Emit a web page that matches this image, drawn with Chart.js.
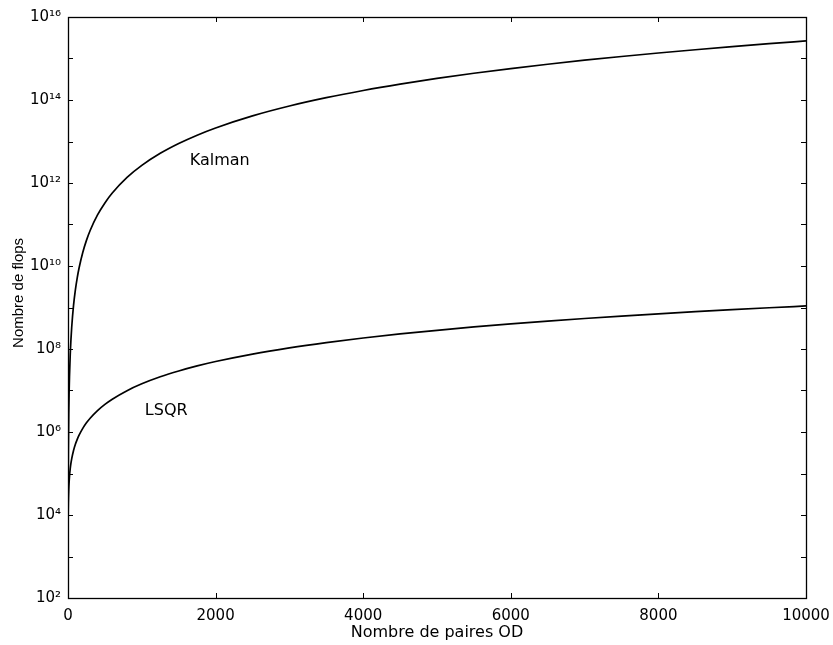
<!DOCTYPE html>
<html>
<head>
<meta charset="utf-8">
<script src="https://cdn.jsdelivr.net/npm/chart.js@4"></script>
<style>
  html, body { margin: 0; padding: 0; background: #ffffff; }
  #wrap { width: 833px; height: 645px; }
</style>
</head>
<body>
<div id="wrap"><canvas id="c" width="833" height="645"></canvas></div>
<script>
// ---- data ----
const nPairs = [1, 3, 5, 10, 15, 20, 30, 40, 50, 75, 100, 125, 150, 200, 250, 300, 400, 500, 600, 800,
  1000, 1250, 1500, 1750, 2000, 2500, 3000, 3500, 4000, 4500, 5000, 5500, 6000, 6500, 7000, 7500,
  8000, 8500, 9000, 9500, 10000];
const kalmanFlops = [2.65e3, 7.16e4, 3.31e5, 2.65e6, 8.94e6, 2.12e7, 7.16e7, 1.70e8, 3.31e8, 1.12e9,
  2.65e9, 5.18e9, 8.94e9, 2.12e10, 4.14e10, 7.16e10, 1.70e11, 3.31e11, 5.72e11, 1.36e12,
  2.65e12, 5.18e12, 8.94e12, 1.42e13, 2.12e13, 4.14e13, 7.16e13, 1.136e14, 1.696e14, 2.415e14,
  3.313e14, 4.409e14, 5.724e14, 7.277e14, 9.090e14, 1.118e15,
  1.357e15, 1.627e15, 1.932e15, 2.272e15, 2.650e15];
const lsqrFlops = [4.0e3, 1.2e4, 2.0e4, 4.1e4, 6.2e4, 8.4e4, 1.3e5, 1.77e5, 2.26e5, 3.59e5,
  5.05e5, 6.64e5, 8.36e5, 1.22e6, 1.66e6, 2.15e6, 3.28e6, 4.63e6, 6.18e6, 9.92e6,
  1.45e7, 2.14e7, 2.96e7, 3.92e7, 5.0e7, 7.56e7, 1.065e8, 1.426e8, 1.840e8, 2.306e8,
  2.825e8, 3.396e8, 4.020e8, 4.696e8, 5.425e8, 6.206e8,
  7.040e8, 7.926e8, 8.865e8, 9.856e8, 1.090e9];
const seriesNames = ['Kalman', 'LSQR'];
const xTickValues = [0, 2000, 4000, 6000, 8000, 10000];
const yExponents = [2, 3, 4, 5, 6, 7, 8, 9, 10, 11, 12, 13, 14, 15, 16];
const xTitle = 'Nombre de paires OD';
const yTitle = 'Nombre de flops';
// curve labels anchored in data coordinates: [text, x, y]
const curveLabels = [['Kalman', 1650, 3.5e12], ['LSQR', 1041, 3.2e6]];

const SUP = {'0':'\u2070','1':'\u00B9','2':'\u00B2','3':'\u00B3','4':'\u2074','5':'\u2075','6':'\u2076','7':'\u2077','8':'\u2078','9':'\u2079'};
const sup = e => String(e).split('').map(c => SUP[c]).join('');

const toPts = ys => nPairs.map((n, i) => ({x: n, y: ys[i]}));

const frame = {
  id: 'frame',
  afterDatasetsDraw(chart) {
    const {ctx, chartArea: a, scales} = chart;
    ctx.save();
    ctx.strokeStyle = '#000';
    ctx.lineWidth = 1;
    ctx.beginPath();
    const L = 5;
    yExponents.forEach(e => {
      const y = Math.round(scales.y.getPixelForValue(Math.pow(10, e))) + 0.5;
      if (e === 2 || e === 16) return;
      ctx.moveTo(a.left, y); ctx.lineTo(a.left + L, y);
      ctx.moveTo(a.right, y); ctx.lineTo(a.right - L, y);
    });
    xTickValues.forEach(v => {
      if (v === 0 || v === 10000) return;
      const x = Math.round(scales.x.getPixelForValue(v)) + 0.5;
      ctx.moveTo(x, a.bottom); ctx.lineTo(x, a.bottom - L);
      ctx.moveTo(x, a.top); ctx.lineTo(x, a.top + L);
    });
    ctx.stroke();
    ctx.lineWidth = 1.3;
    ctx.strokeRect(Math.round(a.left) + 0.5, Math.round(a.top) + 0.5,
      Math.round(a.right - a.left), Math.round(a.bottom - a.top));
    ctx.fillStyle = '#000';
    ctx.font = '16px "DejaVu Sans"';
    ctx.textAlign = 'left';
    ctx.textBaseline = 'middle';
    curveLabels.forEach(([t, x, y]) => {
      ctx.fillText(t, scales.x.getPixelForValue(x), scales.y.getPixelForValue(y));
    });
    ctx.restore();
  }
};

new Chart(document.getElementById('c'), {
  type: 'line',
  data: {
    datasets: [
      { label: seriesNames[0], data: toPts(kalmanFlops), borderColor: '#000', borderWidth: 1.7,
        pointRadius: 0, fill: false, cubicInterpolationMode: 'monotone' },
      { label: seriesNames[1], data: toPts(lsqrFlops), borderColor: '#000', borderWidth: 1.7,
        pointRadius: 0, fill: false, cubicInterpolationMode: 'monotone' }
    ]
  },
  options: {
    responsive: false,
    animation: false,
    layout: { padding: { top: 17, right: 27, left: 0, bottom: 0 } },
    plugins: { legend: { display: false }, tooltip: { enabled: false } },
    scales: {
      x: {
        type: 'linear', min: 0, max: 10000,
        grid: { display: false, drawTicks: false },
        border: { display: false },
        afterBuildTicks: s => { s.ticks = xTickValues.map(v => ({value: v})); },
        ticks: { color: '#000', font: { family: 'DejaVu Sans', size: 15 }, padding: 9,
                 maxRotation: 0, autoSkip: false, callback: v => String(v) },
        title: { display: true, text: xTitle, color: '#000',
                 font: { family: 'DejaVu Sans', size: 16 }, padding: { top: 0, bottom: 3 } },
        afterFit: s => { s.height = 47; s.paddingLeft = 0; s.paddingRight = 0; }
      },
      y: {
        type: 'logarithmic', min: 1e2, max: 1e16,
        grid: { display: false, drawTicks: false },
        border: { display: false },
        afterBuildTicks: s => { s.ticks = yExponents.map(e => ({value: Math.pow(10, e)})); },
        ticks: { color: '#000', font: { family: 'DejaVu Sans', size: 15 }, padding: 7, autoSkip: false,
                 callback: v => { const e = Math.round(Math.log10(v)); return e % 2 === 0 ? '10' + sup(e) : ''; } },
        title: { display: true, text: '       ' + yTitle, color: '#000',
                 font: { family: 'Liberation Sans', size: 15 }, padding: { top: 10, bottom: 0 } },
        afterFit: s => { s.width = 68; s.paddingTop = 0; s.paddingBottom = 0; }
      }
    }
  },
  plugins: [frame]
});
</script>
</body>
</html>
